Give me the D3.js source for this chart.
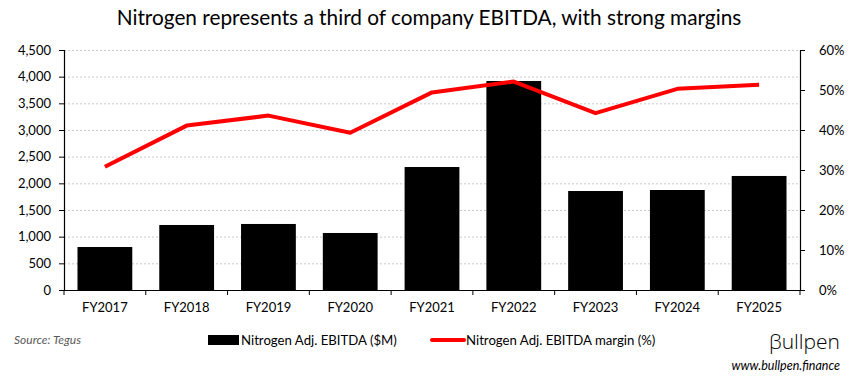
<!DOCTYPE html>
<html><head><meta charset="utf-8">
<script src="https://cdn.jsdelivr.net/npm/d3@7/dist/d3.min.js"></script>
<style>body{margin:0;background:#fff;} svg{display:block;font-family:Lato, "Open Sans", sans-serif;}</style>
</head><body>
<svg id="c" width="858" height="381"></svg>
<script>
const categories = ["FY2017","FY2018","FY2019","FY2020","FY2021","FY2022","FY2023","FY2024","FY2025"];
const ebitda = [806, 1219, 1238, 1069, 2306, 3919, 1856, 1875, 2138];
const margin = [30.8, 41.1, 43.6, 39.3, 49.4, 52.1, 44.2, 50.3, 51.3];
const leftTicks = [0,500,1000,1500,2000,2500,3000,3500,4000,4500];
const rightTicks = [0,10,20,30,40,50,60];

const svg = d3.select("#c");
const L = 64, R = 800, T = 50, B = 290;
const x = d3.scaleBand().domain(categories).range([L, R]).paddingInner(0.33).paddingOuter(0.165);
const y = d3.scaleLinear().domain([0, 4500]).range([B, T]);
const y2 = d3.scaleLinear().domain([0, 60]).range([B, T]);

// gridlines
svg.append("g").selectAll("line").data(leftTicks.slice(1)).join("line")
  .attr("x1", L).attr("x2", R).attr("y1", d => y(d)+0.5).attr("y2", d => y(d)+0.5)
  .attr("stroke", "#c8c8c8").attr("stroke-width", 1).attr("stroke-dasharray", "2,2");

// bars
svg.append("g").selectAll("rect").data(ebitda).join("rect")
  .attr("x", (d,i) => x(categories[i])).attr("width", x.bandwidth())
  .attr("y", d => y(d)).attr("height", d => B - y(d)).attr("fill", "#000");

// line
const line = d3.line().x((d,i) => x(categories[i]) + x.bandwidth()/2).y(d => y2(d));
svg.append("path").datum(margin).attr("d", line).attr("fill", "none")
  .attr("stroke", "#ff0000").attr("stroke-width", 4).attr("stroke-linejoin", "round");

// axes
const fmt = d3.format(",");
const la = svg.append("g").attr("transform", `translate(${L},0)`)
  .call(d3.axisLeft(y).tickValues(leftTicks).tickFormat(fmt).tickSize(5).tickPadding(8));
const ra = svg.append("g").attr("transform", `translate(${R},0)`)
  .call(d3.axisRight(y2).tickValues(rightTicks).tickFormat(d => d + "%").tickSize(5).tickPadding(14));
const xa = svg.append("g").attr("transform", `translate(0,${B})`)
  .call(d3.axisBottom(x).tickSize(0).tickPadding(13));
// category boundary ticks
const bounds = d3.range(categories.length + 1).map(i => L + i * (R - L) / categories.length);
svg.append("g").selectAll("line").data(bounds).join("line")
  .attr("x1", d => d).attr("x2", d => d).attr("y1", B).attr("y2", B + 5)
  .attr("stroke", "#000");
[la, ra, xa].forEach(g => {
  g.selectAll("path.domain").attr("stroke", "#000").attr("stroke-width", 1.2);
  g.selectAll("line").attr("stroke", "#000");
  g.selectAll("text").attr("font-size", 13).attr("fill", "#000").style("font-family", "Lato, sans-serif");
});
xa.select("path.domain").attr("d", `M${L},0.5H${R}`);

// title
svg.append("text").attr("x", 429).attr("y", 25).attr("text-anchor", "middle")
  .attr("font-size", 20.8).attr("fill", "#000")
  .text("Nitrogen represents a third of company EBITDA, with strong margins");

// legend
svg.append("rect").attr("x", 208).attr("y", 335).attr("width", 31).attr("height", 10).attr("fill", "#000");
svg.append("text").attr("x", 241).attr("y", 345).attr("font-size", 13.2).text("Nitrogen Adj. EBITDA ($M)");
svg.append("line").attr("x1", 432).attr("x2", 464).attr("y1", 340).attr("y2", 340)
  .attr("stroke", "#ff0000").attr("stroke-width", 4).attr("stroke-linecap", "round");
svg.append("text").attr("x", 466).attr("y", 345).attr("font-size", 13.2).text("Nitrogen Adj. EBITDA margin (%)");

// source
svg.append("text").attr("x", 14).attr("y", 344).attr("font-size", 12).attr("font-style", "italic")
  .attr("fill", "#595959").text("Source: Tegus");

// logo
svg.append("text").attr("x", 840).attr("y", 349).attr("text-anchor", "end").attr("font-size", 21)
  .attr("fill", "#000").style("font-family", "'Open Sans', sans-serif").style("font-weight", 300).text("βullpen");
svg.append("text").attr("x", 840).attr("y", 370).attr("text-anchor", "end").attr("font-size", 12.5)
  .attr("font-style", "italic").attr("fill", "#000").text("www.bullpen.finance");
</script>
</body></html>
